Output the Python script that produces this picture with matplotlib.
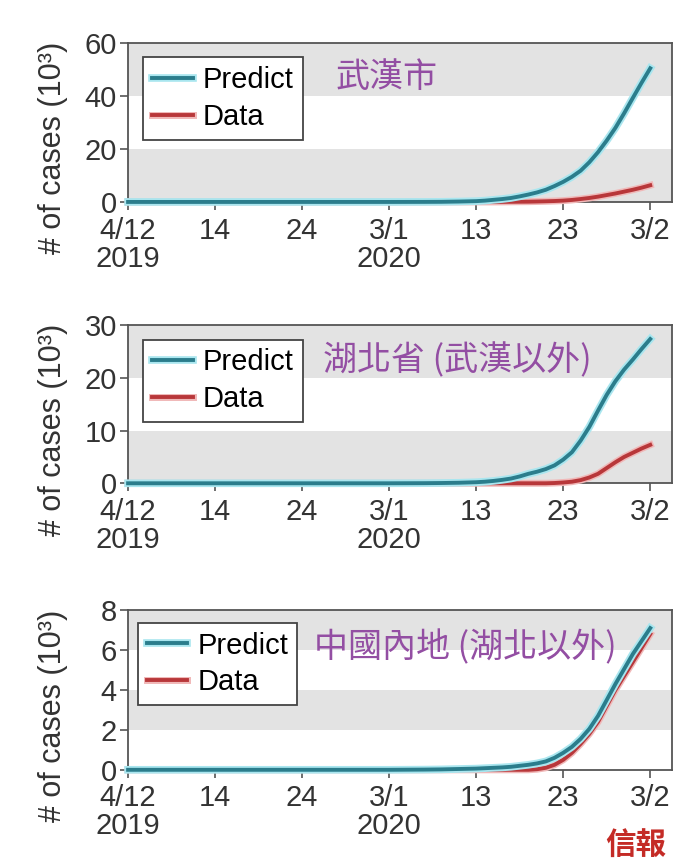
import matplotlib.pyplot as plt
import matplotlib.patheffects as pe

plt.rcParams['font.family'] = ['Liberation Sans', 'Noto Sans CJK TC', 'DejaVu Sans']

# days since 4 Dec 2019
days = [0, 10, 20, 30, 34, 36, 38, 40, 41, 42, 43, 44, 45, 46, 47, 48, 49,
        50, 51, 52, 53, 54, 55, 56, 57, 58, 59, 60]

wuhan_predict = [0, 0, 0, 0, 0.02, 0.05, 0.15, 0.3, 0.5, 0.8, 1.1, 1.5, 2.1, 2.8, 3.6, 4.6, 6.0,
                 7.6, 9.5, 11.8, 15.0, 18.8, 23.2, 28.0, 33.5, 39.3, 45.0, 50.5]
wuhan_data = [0, 0, 0, 0, 0, 0, 0, 0, 0, 0, 0.02, 0.05, 0.08, 0.1, 0.17, 0.25, 0.35,
              0.5, 0.75, 1.1, 1.5, 2.0, 2.6, 3.2, 3.9, 4.6, 5.4, 6.3]

hubei_predict = [0, 0, 0, 0, 0.02, 0.05, 0.1, 0.2, 0.3, 0.45, 0.65, 0.9, 1.3, 1.8, 2.2, 2.7, 3.4,
                 4.5, 5.9, 8.1, 10.7, 13.8, 16.8, 19.4, 21.6, 23.5, 25.5, 27.4]
hubei_data = [0, 0, 0, 0, 0, 0, 0, 0, 0, 0, 0, 0, 0, 0, 0, 0, 0.05,
              0.15, 0.3, 0.6, 1.1, 1.8, 2.9, 4.0, 5.0, 5.8, 6.6, 7.3]

china_predict = [0, 0, 0, 0, 0.01, 0.02, 0.04, 0.06, 0.08, 0.1, 0.12, 0.15, 0.2, 0.25, 0.32, 0.42, 0.6,
                 0.85, 1.15, 1.55, 2.05, 2.7, 3.5, 4.3, 5.05, 5.8, 6.45, 7.1]
china_data = [0, 0, 0, 0, 0, 0, 0, 0, 0, 0, 0, 0, 0, 0, 0.03, 0.1, 0.25,
              0.5, 0.85, 1.3, 1.8, 2.4, 3.2, 4.0, 4.7, 5.4, 6.1, 6.8]

tick_days = [0, 10, 20, 30, 40, 50, 60]
tick_labels = ['4/12\n2019', '14', '24', '3/1\n2020', '13', '23', '3/2']

titles = ['武漢市', '湖北省 (武漢以外)', '中國內地 (湖北以外)']
ymaxes = [60, 30, 8]
ysteps = [20, 10, 2]
predicts = [wuhan_predict, hubei_predict, china_predict]
datas = [wuhan_data, hubei_data, china_data]

teal = '#2b7d8c'
red = '#b8373a'
band = '#e3e3e3'
purple = '#934ea3'
spine = '#555555'

fig = plt.figure(figsize=(6.85, 8.63), dpi=100)

# [left, bottom, width, height]
positions = [
    [0.187, 0.766, 0.794, 0.184],
    [0.187, 0.440, 0.794, 0.183],
    [0.187, 0.108, 0.794, 0.185],
]
title_pos = [(0.382, 0.786), (0.358, 0.78), (0.342, 0.765)]
legend_anchor = [(0.028, 0.91), (0.028, 0.91), (0.018, 0.92)]

for i in range(3):
    ax = fig.add_axes(positions[i])
    ymax = ymaxes[i]
    step = ysteps[i]
    # alternating gray bands
    k = 0
    y = 0
    while y < ymax:
        gray = (k % 2 == 0) if i < 2 else (k % 2 == 1)
        if gray:
            ax.axhspan(y, y + step, color=band, zorder=0, lw=0)
        y += step
        k += 1

    ld, = ax.plot(days, datas[i], color=red, lw=2.8, zorder=3, clip_on=False,
                  path_effects=[pe.Stroke(linewidth=5, foreground='#f0b8b8'), pe.Normal()])
    lp, = ax.plot(days, predicts[i], color=teal, lw=2.8, zorder=4, clip_on=False,
                  path_effects=[pe.Stroke(linewidth=5.5, foreground='#a9e6ef'), pe.Normal()])

    ax.set_xlim(0, 62.5)
    ax.set_ylim(0, ymax)
    ax.set_yticks(range(0, ymax + 1, step))
    ax.set_xticks(tick_days)
    ax.set_xticklabels(tick_labels, linespacing=1.0)
    ax.tick_params(direction='out', length=6, width=1.2, colors=spine,
                   labelsize=21, labelcolor='#333333')
    ax.tick_params(axis='x', pad=4.5)
    ax.tick_params(axis='y', pad=2)
    for s in ax.spines.values():
        s.set_color(spine)
        s.set_linewidth(1.3)
    ax.set_ylabel('# of cases (10³)', fontsize=22, color='#333333')
    ax.yaxis.set_label_coords(-0.11, 0.34)

    leg = ax.legend([lp, ld], ['Predict', 'Data'], loc='upper left',
                    bbox_to_anchor=legend_anchor[i], fontsize=21, frameon=True,
                    fancybox=False, handlelength=1.4, handletextpad=0.35,
                    borderpad=0.3, labelspacing=0.3, borderaxespad=0)
    leg.get_frame().set_edgecolor('#444444')
    leg.get_frame().set_linewidth(1.3)
    leg.get_frame().set_facecolor('white')
    leg.get_frame().set_alpha(1)
    leg.set_zorder(5)

    tx, ty = title_pos[i]
    ax.text(tx, ty, titles[i], transform=ax.transAxes, fontsize=24.5,
            color=purple, family=['Noto Sans CJK TC'], va='center', ha='left', zorder=6)

fig.text(0.928, 0.021, '信報', fontsize=22, color='#c42b26', fontweight='bold',
         family=['Noto Sans CJK TC'], ha='center', va='center')

fig.savefig('out.png', dpi=100)
